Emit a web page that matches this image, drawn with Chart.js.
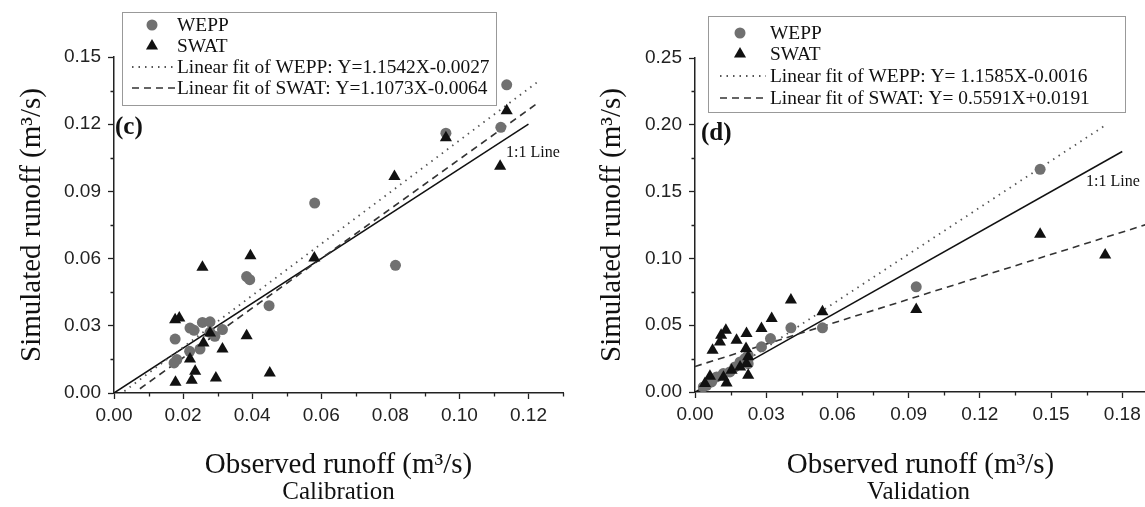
<!DOCTYPE html>
<html>
<head>
<meta charset="utf-8">
<script src="https://cdn.jsdelivr.net/npm/chart.js@4.4.0/dist/chart.umd.min.js"></script>
<style>
  html, body { margin: 0; padding: 0; background: #fff; overflow: hidden; width: 1145px; height: 507px; }
  #left { position: absolute; left: 0; top: 0; width: 570px; height: 507px; }
  #right { position: absolute; left: 570px; top: 0; width: 583px; height: 507px; }
</style>
</head>
<body>
<div id="left"><canvas id="calChart" width="570" height="507"></canvas></div>
<div id="right"><canvas id="valChart" width="583" height="507"></canvas></div>
<script>
// calibration (c)
const calWeppObs = [0.0581, 0.0384, 0.0393, 0.0449, 0.0177, 0.0220, 0.0232, 0.0256, 0.0278, 0.0292, 0.0314, 0.0182, 0.0174, 0.0219, 0.0249, 0.0278, 0.0815, 0.0961, 0.1120, 0.1137];
const calWeppSim = [0.0848, 0.0520, 0.0506, 0.0390, 0.0241, 0.0290, 0.0280, 0.0315, 0.0318, 0.0253, 0.0283, 0.0149, 0.0134, 0.0186, 0.0196, 0.0271, 0.0570, 0.1160, 0.1186, 0.1376];
const calSwatObs = [0.0256, 0.0395, 0.0580, 0.0177, 0.0189, 0.0384, 0.0278, 0.0259, 0.0314, 0.0220, 0.0235, 0.0178, 0.0225, 0.0295, 0.0451, 0.0812, 0.0961, 0.1118, 0.1137];
const calSwatSim = [0.0561, 0.0613, 0.0603, 0.0327, 0.0335, 0.0256, 0.0268, 0.0223, 0.0196, 0.0152, 0.0097, 0.0048, 0.0057, 0.0067, 0.0089, 0.0967, 0.1140, 0.1012, 0.1260];
const calWeppFitX = [0.003, 0.1231];
const calWeppFitY = [0.0008, 0.1394];
const calSwatFitX = [0.0075, 0.1222];
const calSwatFitY = [0.0019, 0.1289];
const calOneX = [0, 0.12];
const calOneY = [0, 0.12];
const calXTicks = [0, 0.02, 0.04, 0.06, 0.08, 0.10, 0.12];
const calXMinor = [0.01, 0.03, 0.05, 0.07, 0.09, 0.11, 0.13];
const calYTicks = [0, 0.03, 0.06, 0.09, 0.12, 0.15];
const calYMinor = [0.015, 0.045, 0.075, 0.105, 0.135];
const calLegend = ['WEPP', 'SWAT', 'Linear fit of WEPP: Y=1.1542X-0.0027', 'Linear fit of SWAT: Y=1.1073X-0.0064'];

// validation (d)
const valWeppObs = [0.0404, 0.0537, 0.0318, 0.0280, 0.0224, 0.0210, 0.0190, 0.0168, 0.0147, 0.0119, 0.0091, 0.0070, 0.0049, 0.0035, 0.0224, 0.0932, 0.1454];
const valWeppSim = [0.0480, 0.0480, 0.0400, 0.0338, 0.0275, 0.0250, 0.0225, 0.0188, 0.0150, 0.0138, 0.0113, 0.0075, 0.0050, 0.0038, 0.0212, 0.0787, 0.1667];
const valSwatObs = [0.0404, 0.0537, 0.0323, 0.0280, 0.0217, 0.0130, 0.0110, 0.0105, 0.0175, 0.0074, 0.0215, 0.0224, 0.0217, 0.0190, 0.0154, 0.0224, 0.0133, 0.0063, 0.0042, 0.0120, 0.0932, 0.1454, 0.1728];
const valSwatSim = [0.0688, 0.0600, 0.0550, 0.0475, 0.0438, 0.0463, 0.0425, 0.0375, 0.0388, 0.0313, 0.0325, 0.0263, 0.0213, 0.0188, 0.0163, 0.0125, 0.0068, 0.0118, 0.0063, 0.0110, 0.0618, 0.1180, 0.1025];
const valWeppFitX = [0.002, 0.1736];
const valWeppFitY = [0.0007, 0.2005];
const valSwatFitX = [0, 0.19];
const valSwatFitY = [0.0191, 0.1253];
const valOneX = [0, 0.18];
const valOneY = [0, 0.18];
const valXTicks = [0, 0.03, 0.06, 0.09, 0.12, 0.15, 0.18];
const valXMinor = [0.015, 0.045, 0.075, 0.105, 0.135, 0.165];
const valYTicks = [0, 0.05, 0.10, 0.15, 0.20, 0.25];
const valYMinor = [0.025, 0.075, 0.125, 0.175, 0.225];
const valLegend = ['WEPP', 'SWAT', 'Linear fit of WEPP: Y= 1.1585X-0.0016', 'Linear fit of SWAT: Y= 0.5591X+0.0191'];

const AXIS = '#222';
const SANS = '"Liberation Sans", Arial, sans-serif';
const SERIF = '"Liberation Serif", "Times New Roman", serif';

const pts = (xs, ys) => xs.map((x, i) => ({x: x, y: ys[i]}));

// minor ticks, legend box, panel letter, 1:1 label, period caption
const decorPlugin = {
    id: 'decor',
    afterDraw(chart, args, o) {
        const {ctx, chartArea} = chart;
        const sx = chart.scales.x, sy = chart.scales.y;
        ctx.save();
        ctx.strokeStyle = AXIS;
        ctx.lineWidth = 1.3;
        ctx.beginPath();
        o.minorX.forEach(v => {
            const px = Math.round(sx.getPixelForValue(v)) + 0.5;
            ctx.moveTo(px, chartArea.bottom);
            ctx.lineTo(px, chartArea.bottom + 3.5);
        });
        o.minorY.forEach(v => {
            const py = Math.round(sy.getPixelForValue(v)) + 0.5;
            ctx.moveTo(chartArea.left, py);
            ctx.lineTo(chartArea.left - 3.5, py);
        });
        ctx.stroke();

        ctx.fillStyle = '#111';
        ctx.textBaseline = 'middle';

        // period caption under the axis title
        ctx.font = '25px ' + SERIF;
        ctx.textAlign = 'center';
        ctx.fillText(o.period, (chartArea.left + chartArea.right) / 2 + o.periodDx, 492);

        // panel letter
        ctx.textAlign = 'left';
        ctx.font = 'bold 25px ' + SERIF;
        ctx.fillText(o.letter, o.letterPos[0], o.letterPos[1]);

        // 1:1 label
        ctx.font = '16px ' + SERIF;
        ctx.fillText('1:1 Line', o.onePos[0], o.onePos[1]);

        // legend
        const b = o.box;
        ctx.strokeStyle = '#999';
        ctx.lineWidth = 1;
        ctx.strokeRect(b[0] + 0.5, b[1] + 0.5, b[2] - b[0], b[3] - b[1]);
        ctx.font = '19.4px ' + SERIF;
        const ds = chart.data.datasets;
        o.rows.forEach((ry, i) => {
            const d = ds[i];
            if (i < 2) {
                ctx.fillStyle = d.pointBackgroundColor;
                ctx.strokeStyle = d.pointBackgroundColor;
                Chart.helpers.drawPoint(ctx, {pointStyle: d.pointStyle, radius: d.pointRadius, rotation: 0, borderWidth: 0}, o.markX, ry);
            } else {
                ctx.strokeStyle = d.borderColor;
                ctx.lineWidth = d.borderWidth;
                ctx.setLineDash(d.borderDash);
                ctx.beginPath();
                ctx.moveTo(o.lineX[0], ry);
                ctx.lineTo(o.lineX[1], ry);
                ctx.stroke();
                ctx.setLineDash([]);
            }
            ctx.fillStyle = '#111';
            ctx.fillText(o.labels[i], o.textX, ry + 1);
        });
        ctx.restore();
    }
};

function makeChart(id, cfg) {
    const tickFmt = v => Number(v).toFixed(2);
    return new Chart(document.getElementById(id), {
        type: 'scatter',
        data: {
            datasets: [
                {label: 'WEPP', data: pts(cfg.weppObs, cfg.weppSim), pointStyle: 'circle', pointRadius: 5.5,
                    pointBackgroundColor: '#707070', pointBorderColor: '#707070', pointBorderWidth: 0, order: 2},
                {label: 'SWAT', data: pts(cfg.swatObs, cfg.swatSim), pointStyle: 'triangle', pointRadius: 7,
                    pointBackgroundColor: '#111', pointBorderColor: '#111', pointBorderWidth: 0, order: 1},
                {label: 'WEPP fit', type: 'line', data: pts(cfg.wFitX, cfg.wFitY), borderColor: '#555', borderWidth: 1.8,
                    borderDash: [1.5, 5], pointRadius: 0, order: 3},
                {label: 'SWAT fit', type: 'line', data: pts(cfg.sFitX, cfg.sFitY), borderColor: '#333', borderWidth: 1.6,
                    borderDash: [7, 5], pointRadius: 0, order: 3},
                {label: '1:1', type: 'line', data: pts(cfg.oneX, cfg.oneY), borderColor: '#111', borderWidth: 1.5,
                    pointRadius: 0, order: 3}
            ]
        },
        options: {
            responsive: false,
            animation: false,
            devicePixelRatio: 1,
            layout: {padding: {top: cfg.top, right: cfg.right, left: 0, bottom: 0}},
            plugins: {
                legend: {display: false},
                tooltip: {enabled: false},
                decor: cfg.decor
            },
            scales: {
                x: {
                    type: 'linear', min: 0, max: cfg.xMax,
                    afterBuildTicks: s => { s.ticks = cfg.xTicks.map(v => ({value: v})); },
                    afterFit: s => { s.height = cfg.bottomH; },
                    ticks: {callback: tickFmt, color: AXIS, font: {family: SANS, size: 19}, padding: 5, maxRotation: 0, autoSkip: false},
                    grid: {drawOnChartArea: false, drawTicks: true, tickLength: 6, tickColor: AXIS, tickWidth: 1.3},
                    border: {display: true, color: AXIS, width: 1.5},
                    title: {display: true, text: 'Observed runoff (m³/s)', color: '#111',
                        font: {family: SERIF, size: 29, lineHeight: 1.1}, padding: {top: 0, bottom: 26}}
                },
                y: {
                    type: 'linear', min: 0, max: cfg.yMax,
                    afterBuildTicks: s => { s.ticks = cfg.yTicks.map(v => ({value: v})); },
                    afterFit: s => { s.width = cfg.leftW; },
                    ticks: {callback: tickFmt, color: AXIS, font: {family: SANS, size: 19}, padding: 7, autoSkip: false},
                    grid: {drawOnChartArea: false, drawTicks: true, tickLength: 6, tickColor: AXIS, tickWidth: 1.3},
                    border: {display: true, color: AXIS, width: 1.5},
                    title: {display: true, text: 'Simulated runoff (m³/s)', color: '#111',
                        font: {family: SERIF, size: 29, lineHeight: 1.1}, padding: {top: cfg.yTitlePad, bottom: 0}}
                }
            }
        },
        plugins: [decorPlugin]
    });
}

makeChart('calChart', {
    weppObs: calWeppObs, weppSim: calWeppSim, swatObs: calSwatObs, swatSim: calSwatSim,
    wFitX: calWeppFitX, wFitY: calWeppFitY, sFitX: calSwatFitX, sFitY: calSwatFitY, oneX: calOneX, oneY: calOneY,
    xTicks: calXTicks, yTicks: calYTicks, xMax: 0.13, yMax: 0.15,
    top: 57, right: 6.5, leftW: 114, bottomH: 114, yTitlePad: 16,
    decor: {
        minorX: calXMinor, minorY: calYMinor, period: 'Calibration', periodDx: 0,
        letter: '(c)', letterPos: [115, 128], onePos: [506, 153],
        box: [122, 12, 496, 105], rows: [25, 46, 67, 88], markX: 152, lineX: [132, 175], textX: 177, labels: calLegend
    }
});

makeChart('valChart', {
    weppObs: valWeppObs, weppSim: valWeppSim, swatObs: valSwatObs, swatSim: valSwatSim,
    wFitX: valWeppFitX, wFitY: valWeppFitY, sFitX: valSwatFitX, sFitY: valSwatFitY, oneX: valOneX, oneY: valOneY,
    xTicks: valXTicks, yTicks: valYTicks, xMax: 0.19, yMax: 0.25,
    top: 58, right: 0, leftW: 125, bottomH: 115, yTitlePad: 26,
    decor: {
        minorX: valXMinor, minorY: valYMinor, period: 'Validation', periodDx: -2,
        letter: '(d)', letterPos: [131, 134], onePos: [516, 182],
        box: [138, 16, 555, 112], rows: [33, 54, 76, 98], markX: 170, lineX: [150, 196], textX: 200, labels: valLegend
    }
});
</script>
</body>
</html>
